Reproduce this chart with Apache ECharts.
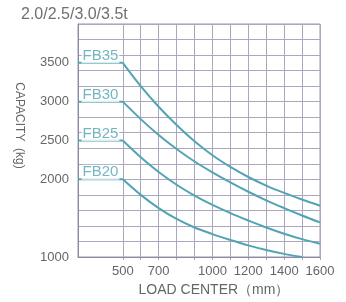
<!DOCTYPE html>
<html>
<head>
<meta charset="utf-8">
<script src="https://cdn.jsdelivr.net/npm/echarts@6/dist/echarts.min.js"></script>
<style>html,body{margin:0;padding:0;background:#fff}#c{width:346px;height:302px}</style>
</head>
<body>
<div id="c"></div>
<script>
// ---- data ----
const titleText = '2.0/2.5/3.0/3.5t';
const models = ['FB35', 'FB30', 'FB25', 'FB20'];
const ratedCapacity = [3500, 3000, 2500, 2000];
const flatStart = 250;
const loadCenters = [500, 600, 700, 800, 900, 1000, 1100, 1200, 1300, 1400, 1500, 1600];
const fb35 = [3500, 3200, 2935, 2700, 2490, 2310, 2160, 2030, 1920, 1825, 1740, 1660];
const fb30 = [3000, 2775, 2570, 2390, 2230, 2090, 1960, 1840, 1730, 1630, 1535, 1445];
const fb25 = [2500, 2285, 2095, 1930, 1790, 1670, 1565, 1470, 1380, 1300, 1230, 1170];
const fb20 = [2000, 1800, 1630, 1490, 1380, 1295, 1220, 1150, 1090, 1040, 1000];
const xTickLabels = [500, 700, 1000, 1200, 1400, 1600];
const yTickLabels = [1000, 2000, 2500, 3000, 3500];

// ---- chart ----
const curves = [fb35, fb30, fb25, fb20];
const teal = '#52a4b3';
const gridColor = '#aaa7bf';
const font = 'Liberation Sans, Arial, sans-serif';
const xMax = 1600;
const gLeft = 78, gRight = 26, W = 346;
const plotW = W - gLeft - gRight;
const left500 = gLeft + (loadCenters[0] - flatStart) / (xMax - flatStart) * plotW;

const series = [];
curves.forEach((vals, i) => {
  series.push({
    type: 'line', name: models[i] + '-flat', showSymbol: false, silent: true,
    lineStyle: { color: teal, width: 2 },
    data: [[flatStart, ratedCapacity[i]], [loadCenters[0], ratedCapacity[i]]],
    z: 5
  });
  series.push({
    type: 'line', name: models[i], showSymbol: false, silent: true, smooth: 0.35,
    lineStyle: { color: teal, width: 2 },
    data: vals.map((v, k) => [loadCenters[k], v]),
    z: 5
  });
});
series.push({
  type: 'scatter', silent: true, symbolSize: 1,
  itemStyle: { color: 'transparent' },
  data: models.map((m, i) => ({ name: m, value: [flatStart, ratedCapacity[i]] })),
  label: {
    show: true, formatter: p => p.name, position: [4, 1], align: 'left', verticalAlign: 'bottom',
    color: teal, fontSize: 15, fontFamily: font, backgroundColor: '#fff', padding: [0, 1, 0, 1], lineHeight: 15
  },
  z: 10
});

const chart = echarts.init(document.getElementById('c'), null, { renderer: 'canvas' });
chart.setOption({
  animation: false,
  backgroundColor: '#fff',
  title: {
    text: titleText, left: 16, top: 2,
    textStyle: { fontSize: 16, fontWeight: 'normal', color: '#707070', fontFamily: font }
  },
  grid: [
    { left: gLeft, right: gRight, top: 24, bottom: 42, show: true, borderColor: '#9a98ac', borderWidth: 1 },
    { left: left500, right: gRight, top: 24, bottom: 42, show: false }
  ],
  xAxis: [{
    type: 'value', min: flatStart, max: xMax, gridIndex: 0,
    name: 'LOAD CENTER（mm）', nameLocation: 'middle', nameGap: 26,
    nameTextStyle: { fontSize: 14, color: '#666', fontFamily: font, padding: [0, 0, 0, 30] },
    axisLine: { show: true, lineStyle: { color: '#8d8aa3' } },
    axisTick: { show: false },
    splitLine: { show: false },
    axisLabel: { customValues: xTickLabels, fontSize: 13, color: '#666', fontFamily: font, margin: 8, formatter: v => String(v) }
  }, {
    type: 'value', min: loadCenters[0], max: xMax, interval: 100, gridIndex: 1,
    axisLine: { show: false }, axisTick: { show: false }, axisLabel: { show: false },
    splitLine: { show: true, lineStyle: { color: gridColor, width: 1 } }
  }],
  yAxis: [{
    type: 'value', min: 1000, max: 4000, interval: 200, gridIndex: 0,
    name: 'CAPACITY  (kg)', nameLocation: 'middle', nameGap: 53, nameRotate: -90,
    nameTextStyle: { fontSize: 12, color: '#666', fontFamily: font, padding: [0, 30, 0, 0] },
    axisLine: { show: true, lineStyle: { color: '#8d8aa3' } },
    axisTick: { show: false },
    splitLine: { show: true, lineStyle: { color: gridColor, width: 1 } },
    axisLabel: { customValues: yTickLabels, fontSize: 13, color: '#666', fontFamily: font, margin: 9, formatter: v => String(v) }
  }, {
    type: 'value', min: 1000, max: 4000, gridIndex: 1, show: false, splitLine: { show: false }
  }],
  series: series
});
</script>
</body>
</html>
